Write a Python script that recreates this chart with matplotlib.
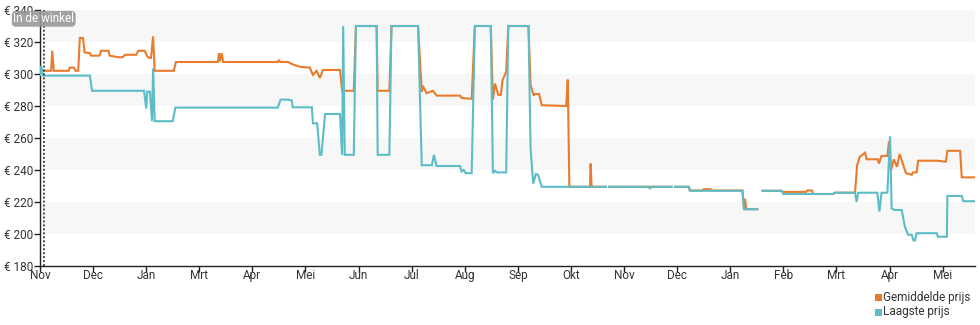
import numpy as np
import matplotlib
matplotlib.use("Agg")
import matplotlib.pyplot as plt
from matplotlib.patches import Rectangle

plt.rcParams['font.family'] = ['Roboto', 'DejaVu Sans']

# Month tick labels (one tick per month position)
month_labels = ['Nov', 'Dec', 'Jan', 'Mrt', 'Apr', 'Mei', 'Jun', 'Jul', 'Aug',
                'Sep', 'Okt', 'Nov', 'Dec', 'Jan', 'Feb', 'Mrt', 'Apr', 'Mei']
y_ticks = [180, 200, 220, 240, 260, 280, 300, 320, 340]

# Average price (x in month positions, NaN = no data)
avg_x = [0.02, 0.06, 0.21, 0.23, 0.26, 0.54, 0.56, 0.64, 0.67, 0.72, 0.75, 0.81,
         0.84, 0.94, 0.96, 1.12, 1.15, 1.29, 1.31, 1.47, 1.56, 1.60, 1.81, 1.85,
         1.97, 2.03, 2.09, 2.13, 2.16, 2.52, 2.56, 3.35, 3.37, 3.39, 3.42, 3.45,
         4.48, 4.50, 4.53, 4.67, 4.76, 4.90, 5.08, 5.14, 5.21, 5.27, 5.33, 5.65,
         5.69, 5.91, 5.95, 6.34, 6.36, 6.58, 6.62, 7.12, 7.19, 7.21, 7.28, 7.40,
         7.47, 7.91, 7.94, 8.13, 8.19, 8.49, 8.53, 8.57, 8.63, 8.68, 8.71, 8.78,
         8.82, 9.20, 9.24, 9.30, 9.32, 9.40, 9.45, 9.91, 9.94, 9.97, 10.36, 10.37,
         10.39, 10.66, 10.69, 10.72, 11.90, 11.93, 11.96, 12.22, 12.24, 12.48,
         12.50, 12.63, 12.65, 13.23, 13.26, 13.28, 13.30, 13.51, 13.56, 13.61,
         13.97, 13.98, 14.43, 14.45, 14.54, 14.56, 14.94, 14.97, 15.35, 15.39,
         15.44, 15.54, 15.57, 15.78, 15.80, 15.85, 15.96, 15.99, 16.03, 16.08,
         16.14, 16.19, 16.25, 16.31, 16.42, 16.44, 16.51, 16.54, 16.89, 17.06,
         17.09, 17.33, 17.36, 17.61]
avg_y = [303, 302, 302, 314.5, 302, 302, 304, 304, 302, 302, 322.5, 322.5,
         313.5, 313, 311.5, 311.5, 314.5, 314.5, 311.5, 310.5, 310.5, 312, 312, 314.5,
         314.5, 310.5, 310, 323.5, 302, 302, 307.5, 307.5, 313, 308, 313, 307.5,
         307.5, 308.5, 307.5, 307.5, 306, 304.5, 304, 299.5, 302, 297.5, 302.5, 302.5,
         289.5, 289.5, 330, 330, 289.5, 289.5, 330, 330, 289, 292.5, 288, 289.5,
         286.5, 286.5, 285, 284.5, 330, 330, 284, 294, 287, 287, 296, 301.5,
         330, 330, 293, 286.5, 287.5, 287.5, 280.5, 280, 296.5, 229.5, 229.5, 244,
         229.5, 229.5, np.nan, 229.5, 229.5, np.nan, 229.5, 229.5, 227.2, 227.2,
         228, 228, 227.2, 227.2, 215.5, 222, 215.5, 215.5, np.nan, 227,
         227, 226.3, 226.3, 227.2, 227.2, 225, 225, 225.8, 225.8, 243,
         248.3, 250.8, 246.7, 246.7, 244, 248.8, 248.8, 258, 240, 246.7,
         242, 250, 244, 238, 237, 238.5, 238.5, 245.8, 245.8, 245.2,
         252, 252, 235.4, 235.4]

# Lowest price
low_x = [0.00, 0.02, 0.06, 0.94, 0.98, 1.96, 2.00, 2.02, 2.07, 2.11, 2.13, 2.16,
         2.50, 2.55, 4.48, 4.53, 4.67, 4.74, 4.76, 5.12, 5.14, 5.22, 5.27, 5.30,
         5.37, 5.65, 5.69, 5.71, 5.74, 5.91, 5.95, 6.34, 6.36, 6.58, 6.62, 7.12,
         7.19, 7.38, 7.42, 7.47, 7.91, 7.94, 7.98, 8.02, 8.13, 8.19, 8.49, 8.53,
         8.57, 8.61, 8.78, 8.82, 9.20, 9.24, 9.29, 9.34, 9.38, 9.45, 10.66, 10.69,
         10.72, 11.45, 11.49, 11.53, 11.90, 11.93, 11.96, 12.22, 12.24, 13.23,
         13.26, 13.51, 13.56, 13.61, 13.97, 14.00, 14.94, 14.97, 15.35, 15.38,
         15.41, 15.77, 15.81, 15.85, 15.96, 16.01, 16.04, 16.09, 16.23, 16.29,
         16.35, 16.42, 16.45, 16.48, 16.51, 16.89, 16.91, 17.08, 17.09, 17.36,
         17.39, 17.61]
low_y = [299.5, 305, 299, 299, 289.5, 289.5, 278.5, 289, 289, 270.5, 303.5, 270.5,
         270.5, 279, 279, 284, 284, 283.5, 279.2, 279.2, 269.2, 269.2, 249.5, 249.5,
         275, 275, 249.5, 330, 249.5, 249.5, 330, 330, 249.5, 249.5, 330, 330,
         243, 243, 249.5, 242.5, 242.5, 239, 240, 238, 238, 330, 330, 238,
         239.5, 238.5, 238.5, 330, 330, 253.5, 231.5, 237.5, 237, 229.5, 229.5, np.nan,
         229.5, 229.5, 228.5, 229.5, 229.5, np.nan, 229.5, 229.5, 227, 227,
         215.5, 215.5, np.nan, 227, 227, 225, 225, 225.8, 225.8, 220,
         225.8, 225.8, 214, 225.8, 225.8, 261, 216, 215, 215, 204.5,
         199.5, 199.5, 196, 196, 200.5, 200.5, 198.3, 198.3, 223.8, 223.8,
         220.5, 220.5]

ORANGE = '#ea7b2c'
TEAL = '#5cbdc7'
TEXT = '#333333'

fig = plt.figure(figsize=(9.8, 3.25), dpi=100)
ax = fig.add_axes([40 / 980, 59 / 325, 935 / 980, 256 / 325])

# alternating horizontal bands
for lo in (200, 240, 280, 320):
    ax.axhspan(lo, lo + 20, color='#f7f7f7', zorder=0, lw=0)

ax.plot(avg_x, avg_y, color=ORANGE, lw=1.5, zorder=3, solid_joinstyle='miter')
ax.plot(low_x, low_y, color=TEAL, lw=1.5, zorder=4, solid_joinstyle='miter')

# "In de winkel" marker
ax.axvline(0.07, color='#333333', lw=1.3, ls=(0, (1.0, 1.2)), zorder=5)
ax.text(0.07, 334.5, 'In de winkel', ha='center', va='center', fontsize=8.5,
        color='white', zorder=6,
        bbox=dict(boxstyle='round,pad=0.12,rounding_size=0.35',
                  fc='#999999', ec='none', alpha=0.9))

ax.set_xlim(0, 17.61)
ax.set_ylim(180, 340)
ax.set_xticks(range(len(month_labels)))
ax.set_xticklabels(month_labels)
ax.set_yticks(y_ticks)
ax.set_yticklabels([f'€ {v}' for v in y_ticks])

for side in ('top', 'right'):
    ax.spines[side].set_visible(False)
for side in ('left', 'bottom'):
    ax.spines[side].set_color('#222222')
    ax.spines[side].set_linewidth(1.0)
ax.tick_params(axis='both', length=4, width=1, color='#222222',
               labelsize=8.5, labelcolor=TEXT)
ax.tick_params(axis='x', pad=-1.5)
ax.tick_params(axis='y', pad=1)

# legend
for i, (label, col) in enumerate([('Gemiddelde prijs', ORANGE),
                                  ('Laagste prijs', TEAL)]):
    yc = 297 + i * 15
    fig.patches.append(Rectangle((875 / 980, 1 - (yc + 3.5) / 325), 7 / 980, 7 / 325,
                                 transform=fig.transFigure, fc=col, ec='none'))
    fig.text(883 / 980, 1 - yc / 325, label, ha='left', va='center',
             fontsize=8.5, color=TEXT)

fig.savefig('out.png', dpi=100, facecolor='white')
